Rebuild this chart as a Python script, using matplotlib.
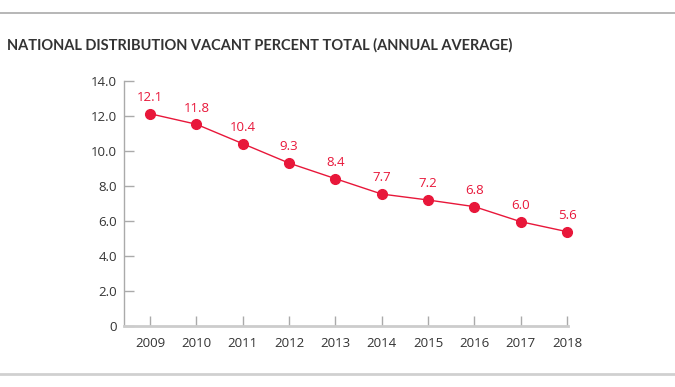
import matplotlib
matplotlib.use("Agg")
import matplotlib.pyplot as plt
from matplotlib.lines import Line2D

years = [2009, 2010, 2011, 2012, 2013, 2014, 2015, 2016, 2017, 2018]
values = [12.13, 11.53, 10.42, 9.31, 8.42, 7.54, 7.2, 6.82, 5.96, 5.39]
labels = ["12.1", "11.8", "10.4", "9.3", "8.4", "7.7", "7.2", "6.8", "6.0", "5.6"]
yticks = [0, 2, 4, 6, 8, 10, 12, 14]
yticklabels = ["0", "2.0", "4.0", "6.0", "8.0", "10.0", "12.0", "14.0"]
title = "NATIONAL DISTRIBUTION VACANT PERCENT TOTAL (ANNUAL AVERAGE)"

RED = "#e8173a"
W, H = 675, 387
fig = plt.figure(figsize=(W / 100, H / 100), dpi=100)
ax = fig.add_axes([124 / W, 1 - 326 / H, (568 - 124) / W, (326 - 81) / H])

ax.plot(years, values, color=RED, lw=1.0, marker="o", ms=7, mec=RED, mfc=RED, zorder=3, clip_on=False)
for x, v, t in zip(years, values, labels):
    ax.annotate(t, (x, v), xytext=(0, 7), textcoords="offset points", ha="center", va="bottom",
                color=RED, fontsize=9.5, family="Open Sans")

ax.set_xlim(2008.44, 2018.02)
ax.set_ylim(0, 14)
ax.set_xticks(years)
ax.set_xticklabels([str(y) for y in years])
ax.set_yticks(yticks)
ax.set_yticklabels(yticklabels)
for s in ["top", "right"]:
    ax.spines[s].set_visible(False)
ax.spines["left"].set_color("#aaaaaa")
ax.spines["left"].set_linewidth(1.0)
ax.spines["bottom"].set_color("#cccccc")
ax.spines["bottom"].set_linewidth(2.0)
ax.tick_params(axis="y", direction="in", length=7, width=1, color="#aaaaaa", labelsize=9.5,
               labelcolor="#333333", pad=5)
ax.tick_params(axis="x", direction="in", length=7, width=1, color="#aaaaaa", labelsize=9.5,
               labelcolor="#333333", pad=8)
for lab in ax.get_xticklabels() + ax.get_yticklabels():
    lab.set_family("Open Sans")

fig.add_artist(Line2D([0, 1], [1 - 13 / H, 1 - 13 / H], color="#aaaaaa", lw=1.2, transform=fig.transFigure))
fig.add_artist(Line2D([0, 1], [1 - 374 / H, 1 - 374 / H], color="#d0d0d0", lw=2.0, transform=fig.transFigure))
fig.text(7 / W, 1 - 45 / H, title, ha="left", va="center", fontsize=10.5, fontweight="bold",
         family="Lato", color="#333333")

fig.savefig("out.png", dpi=100)
